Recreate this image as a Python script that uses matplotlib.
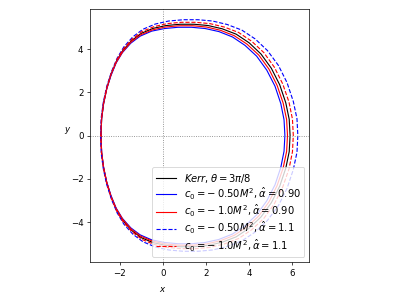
import numpy as np
import matplotlib
matplotlib.use("Agg")
import matplotlib.pyplot as plt

# Upper halves of the shadow curves (the lower halves are mirror images in y)
kerr_x = [-2.87, -2.84, -2.75, -2.60, -2.40, -2.15, -1.85, -1.45, -1.00, -0.45, 0.15, 0.80,
          1.45, 2.10, 2.75, 3.40, 4.00, 4.55, 5.03, 5.42, 5.70, 5.86, 5.90]
kerr_y = [0.00, 0.80, 1.50, 2.20, 2.85, 3.45, 3.95, 4.40, 4.74, 4.97, 5.10, 5.16,
          5.16, 5.10, 4.95, 4.70, 4.30, 3.78, 3.12, 2.35, 1.52, 0.75, 0.00]

b1_x = [-2.87, -2.84, -2.75, -2.61, -2.41, -2.17, -1.88, -1.49, -1.05, -0.52, 0.07, 0.70,
        1.33, 1.97, 2.60, 3.23, 3.81, 4.35, 4.82, 5.20, 5.47, 5.62, 5.66]
b1_y = [0.00, 0.78, 1.46, 2.14, 2.77, 3.36, 3.84, 4.28, 4.61, 4.84, 4.96, 5.02,
        5.02, 4.96, 4.82, 4.57, 4.18, 3.68, 3.03, 2.29, 1.48, 0.73, 0.00]

r1_x = [-2.87, -2.84, -2.75, -2.60, -2.41, -2.16, -1.86, -1.47, -1.03, -0.48, 0.11, 0.75,
        1.39, 2.03, 2.67, 3.31, 3.90, 4.45, 4.92, 5.30, 5.58, 5.74, 5.78]
r1_y = [0.00, 0.79, 1.48, 2.17, 2.81, 3.40, 3.89, 4.34, 4.67, 4.90, 5.03, 5.09,
        5.09, 5.03, 4.88, 4.63, 4.24, 3.73, 3.08, 2.32, 1.50, 0.74, 0.00]

b2_x = [-2.89, -2.86, -2.76, -2.60, -2.38, -2.12, -1.81, -1.39, -0.92, -0.35, 0.27, 0.95,
        1.63, 2.30, 2.98, 3.66, 4.28, 4.85, 5.36, 5.76, 6.05, 6.22, 6.26]
b2_y = [0.00, 0.83, 1.56, 2.29, 2.97, 3.59, 4.11, 4.58, 4.93, 5.17, 5.31, 5.37,
        5.37, 5.31, 5.15, 4.89, 4.48, 3.94, 3.25, 2.45, 1.58, 0.78, 0.00]

r2_x = [-2.88, -2.85, -2.75, -2.60, -2.39, -2.14, -1.83, -1.43, -0.97, -0.41, 0.20, 0.86,
        1.52, 2.18, 2.85, 3.51, 4.12, 4.68, 5.17, 5.56, 5.85, 6.01, 6.05]
r2_y = [0.00, 0.81, 1.53, 2.24, 2.90, 3.51, 4.02, 4.47, 4.82, 5.05, 5.19, 5.25,
        5.25, 5.19, 5.03, 4.78, 4.37, 3.85, 3.17, 2.39, 1.55, 0.76, 0.00]

labels = [r'$Kerr,\theta=3\pi/8$',
          r'$c_0=-\:0.50M^2,\hat{\alpha}=0.90$',
          r'$c_0=-\:1.0M^2,\hat{\alpha}=0.90$',
          r'$c_0=-\:0.50M^2,\hat{\alpha}=1.1$',
          r'$c_0=-\:1.0M^2,\hat{\alpha}=1.1$']
series = [(kerr_x, kerr_y, 'k', '-'),
          (b1_x, b1_y, 'b', '-'),
          (r1_x, r1_y, 'r', '-'),
          (b2_x, b2_y, 'b', '--'),
          (r2_x, r2_y, 'r', '--')]


def closed(xs, ys):
    xs = np.asarray(xs)
    ys = np.asarray(ys)
    return np.r_[xs, xs[-2::-1]], np.r_[ys, -ys[-2::-1]]


fig = plt.figure(figsize=(6.4, 4.8), dpi=62.35)
ax = fig.add_subplot(111)
fig.subplots_adjust(left=0.1, right=0.9, top=0.9699, bottom=0.1227)

for (xs, ys, c, ls), lab in zip(series, labels):
    X, Y = closed(xs, ys)
    ax.plot(X, Y, color=c, linestyle=ls, linewidth=1.3, label=lab)

ax.axhline(0, color='gray', linestyle=':', linewidth=1.0)
ax.axvline(0, color='gray', linestyle=':', linewidth=1.0)

ax.set_xlim(-3.40, 6.80)
ax.set_ylim(-5.88, 5.88)
ax.set_aspect('equal')
ax.set_xticks([-2, 0, 2, 4, 6])
ax.set_yticks([-4, -2, 0, 2, 4])

ax.set_xlabel('$x$')
ax.xaxis.set_label_coords(0.333, -0.087)
ax.set_ylabel('$y$', rotation=0)

ax.legend(loc='lower right', fontsize=11.5, labelspacing=0.12,
          handlelength=2.0, borderpad=0.4)

fig.savefig('out.png', dpi=62.35)
